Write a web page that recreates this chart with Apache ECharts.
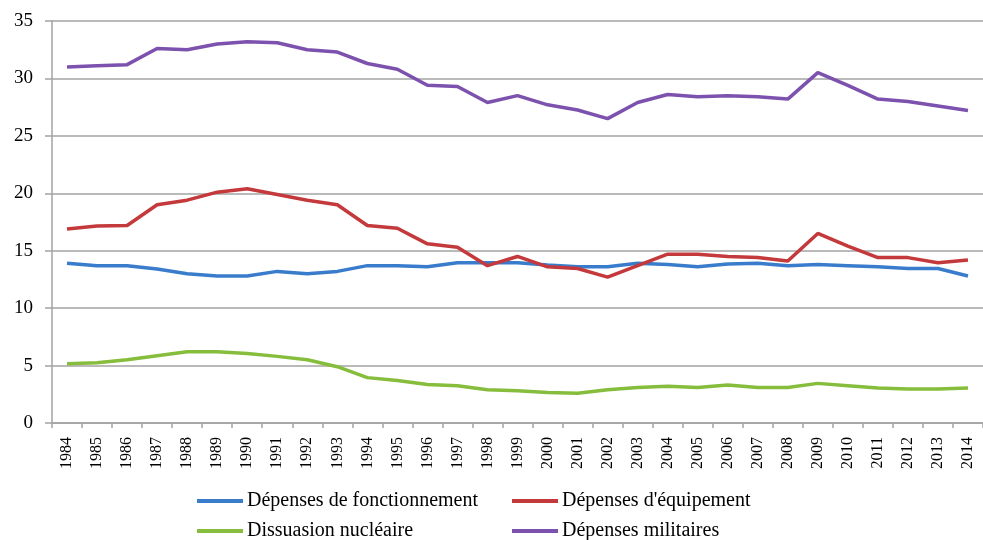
<!DOCTYPE html>
<html>
<head>
<meta charset="utf-8">
<script src="https://cdn.jsdelivr.net/npm/echarts@6/dist/echarts.min.js"></script>
<style>
  html, body { margin: 0; padding: 0; background: #fff; }
  #chart { width: 983px; height: 540px; }
</style>
</head>
<body>
<div id="chart"></div>
<script>
// années
const years = ['1984','1985','1986','1987','1988','1989','1990','1991','1992','1993','1994','1995','1996','1997','1998','1999','2000','2001','2002','2003','2004','2005','2006','2007','2008','2009','2010','2011','2012','2013','2014'];

// séries
const fonctionnement = [13.9,13.7,13.7,13.4,13.0,12.8,12.8,13.2,13.0,13.2,13.7,13.7,13.6,13.95,13.95,13.95,13.75,13.6,13.6,13.9,13.8,13.6,13.85,13.9,13.7,13.8,13.7,13.6,13.45,13.45,12.8];
const equipement = [16.9,17.15,17.2,19.0,19.4,20.1,20.4,19.9,19.4,19.0,17.2,16.95,15.6,15.3,13.7,14.5,13.6,13.45,12.7,13.7,14.7,14.7,14.5,14.4,14.1,16.5,15.4,14.4,14.4,13.95,14.2];
const dissuasion = [5.15,5.25,5.5,5.85,6.2,6.2,6.05,5.8,5.5,4.9,3.95,3.7,3.35,3.25,2.9,2.8,2.65,2.6,2.9,3.1,3.2,3.1,3.3,3.1,3.1,3.45,3.25,3.05,2.95,2.95,3.05];
const militaires = [31.0,31.1,31.2,32.6,32.5,33.0,33.2,33.1,32.5,32.3,31.3,30.8,29.4,29.3,27.9,28.5,27.7,27.25,26.5,27.9,28.6,28.4,28.5,28.4,28.2,30.5,29.4,28.2,28.0,27.6,27.2];

const names = ['Dépenses de fonctionnement', "Dépenses d'équipement", 'Dissuasion nucléaire', 'Dépenses militaires'];
const colors = ['#3a7ccc', '#c4393b', '#86bd3c', '#7c52ae'];

const serif = 'Liberation Serif';
const gridGray = '#a3a3a3';

const chart = echarts.init(document.getElementById('chart'));

const mkSeries = (name, data, color) => ({
    name,
    type: 'line',
    data,
    symbol: 'none',
    smooth: false,
    lineStyle: { color, width: 3.5 },
    itemStyle: { color }
});

// une légende par entrée, disposées en 2 colonnes x 2 lignes
const mkLegend = (name, left, top) => ({
    data: [name],
    left,
    top,
    padding: 0,
    icon: 'rect',
    itemWidth: 46,
    itemHeight: 4,
    itemGap: 0,
    textStyle: { fontFamily: serif, fontSize: 20, color: '#000', padding: [0, 0, 0, -1] }
});

chart.setOption({
    backgroundColor: '#fff',
    animation: false,
    color: colors,
    grid: { left: 52, top: 21, width: 940, height: 402 },
    legend: [
        mkLegend(names[0], 197, 491),
        mkLegend(names[1], 512, 491),
        mkLegend(names[2], 197, 521),
        mkLegend(names[3], 512, 521)
    ],
    xAxis: {
        type: 'category',
        data: years,
        boundaryGap: true,
        axisLine: { lineStyle: { color: gridGray, width: 1.5 } },
        axisTick: { show: true, length: 5, lineStyle: { color: gridGray, width: 1.5 } },
        axisLabel: { rotate: 90, interval: 0, fontFamily: serif, fontSize: 16, color: '#000', margin: 14 }
    },
    yAxis: {
        type: 'value',
        min: 0,
        max: 35,
        interval: 5,
        axisLine: { show: true, lineStyle: { color: gridGray, width: 1.5 } },
        axisTick: { show: true, length: 7, lineStyle: { color: gridGray, width: 1.5 } },
        splitLine: { lineStyle: { color: gridGray, width: 1.5 } },
        axisLabel: { fontFamily: serif, fontSize: 19, color: '#000', margin: 19 }
    },
    series: [
        mkSeries(names[0], fonctionnement, colors[0]),
        mkSeries(names[1], equipement, colors[1]),
        mkSeries(names[2], dissuasion, colors[2]),
        mkSeries(names[3], militaires, colors[3])
    ]
});
</script>
</body>
</html>
